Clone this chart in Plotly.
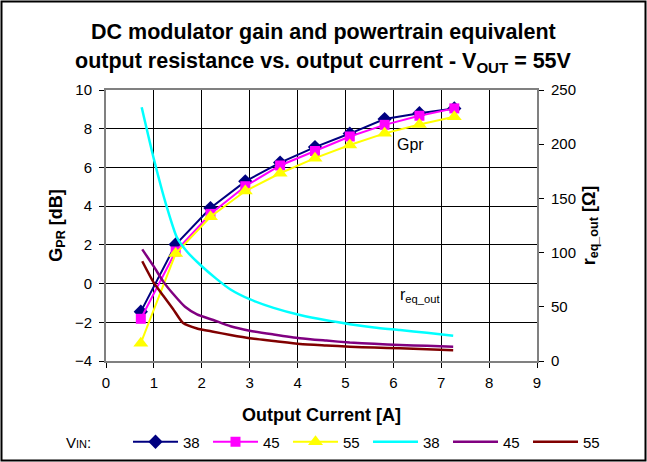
import plotly.graph_objects as go

# ---------------- data ----------------
current_a = [0.727, 1.455, 2.182, 2.909, 3.636, 4.364, 5.091, 5.818, 6.545, 7.273]
gpr_38 = [-1.45, 2.02, 3.9, 5.28, 6.25, 7.05, 7.75, 8.5, 8.8, 9.05]
gpr_45 = [-1.82, 1.66, 3.6, 5.03, 6.1, 6.85, 7.6, 8.2, 8.67, 9.05]
gpr_55 = [-3.08, 1.55, 3.45, 4.78, 5.7, 6.48, 7.16, 7.76, 8.22, 8.62]

r38_x = [0.745, 0.99, 1.27, 1.48, 1.69, 1.96, 2.3, 2.6, 3.0, 3.5, 4.05, 4.6, 5.09, 5.6, 6.14, 6.7, 7.25]
r38_y = [234, 188, 142, 114, 101, 89, 76, 66, 57, 49, 42.4, 37.5, 34, 31, 28.6, 26, 23.3]
r45_x = [0.757, 1.0, 1.2, 1.4, 1.65, 1.9, 2.24, 2.6, 3.0, 3.5, 4.05, 4.6, 5.09, 5.6, 6.14, 6.7, 7.25]
r45_y = [103, 87, 73, 62, 50, 43, 37.8, 32, 28, 24.5, 21, 18.8, 17, 15.8, 14.8, 14, 13.2]
r55_x = [0.757, 1.0, 1.2, 1.4, 1.61, 1.9, 2.24, 2.6, 3.0, 3.5, 4.05, 4.6, 5.09, 5.6, 6.14, 6.7, 7.25]
r55_y = [92, 72, 60, 48, 35, 30, 27, 24, 21, 18.5, 15.7, 14.3, 13.2, 12.4, 11.7, 10.8, 10]

x_ticks = list(range(0, 10))
y_ticks = list(range(-4, 11, 2))
y2_ticks = list(range(0, 251, 50))

title_lines = ["<b>DC modulator gain and powertrain equivalent</b>",
               "<b>output resistance vs. output current - V<sub>OUT</sub> = 55V</b>"]

FONT = "Liberation Sans, Arial, sans-serif"
W, H = 647, 462
ML, MR, MT, MB = 106, 110, 90, 101
PW, PH = W - ML - MR, H - MT - MB


def px_to_paper_y(py):
    return (H - MB - py) / PH


def px_to_paper_x(px):
    return (px - ML) / PW


fig = go.Figure()

fig.add_trace(go.Scatter(x=current_a, y=gpr_38, name="38", mode="lines+markers",
                         line=dict(color="#000080", width=2), legend="legend",
                         marker=dict(symbol="diamond", size=11, color="#000080")))
fig.add_trace(go.Scatter(x=current_a, y=gpr_45, name="45", mode="lines+markers",
                         line=dict(color="#FF00FF", width=2), legend="legend",
                         marker=dict(symbol="square", size=10, color="#FF00FF")))
fig.add_trace(go.Scatter(x=current_a, y=gpr_55, name="55", mode="lines+markers",
                         line=dict(color="#FFFF00", width=2), legend="legend",
                         marker=dict(symbol="triangle-up", size=13, color="#FFFF00")))
fig.add_trace(go.Scatter(x=r38_x, y=r38_y, name="38", mode="lines", yaxis="y2", legend="legend2",
                         line=dict(color="#00FFFF", width=2.5, shape="spline", smoothing=0.6)))
fig.add_trace(go.Scatter(x=r45_x, y=r45_y, name="45", mode="lines", yaxis="y2", legend="legend2",
                         line=dict(color="#800080", width=2.5, shape="spline", smoothing=0.6)))
fig.add_trace(go.Scatter(x=r55_x, y=r55_y, name="55", mode="lines", yaxis="y2", legend="legend2",
                         line=dict(color="#800000", width=2.5, shape="spline", smoothing=0.6)))

legend_common = dict(orientation="h", xref="container", yref="container",
                     xanchor="left", y=(H - 442) / H, yanchor="middle",
                     font=dict(size=15), bgcolor="rgba(0,0,0,0)", traceorder="normal",
                     entrywidth=20, itemwidth=45)

fig.update_layout(
    width=W, height=H,
    margin=dict(l=ML, r=MR, t=MT, b=MB),
    paper_bgcolor="white", plot_bgcolor="white",
    font=dict(family=FONT, size=15, color="black"),
    xaxis=dict(range=[0, 9], tickvals=x_ticks, showgrid=True, gridcolor="black", gridwidth=1,
               showline=True, linecolor="#808080", linewidth=2, mirror=True, automargin=False,
               ticks="outside", ticklen=5, tickcolor="black", zeroline=False,
               tickfont=dict(size=15), ticklabelstandoff=2,
               title=dict(text="<b>Output Current [A]</b>", font=dict(size=18), standoff=19)),
    yaxis=dict(range=[-4, 10], tickvals=y_ticks, showgrid=True, gridcolor="black", gridwidth=1,
               showline=True, linecolor="#808080", linewidth=2, automargin=False,
               ticks="outside", ticklen=5, tickcolor="black", zeroline=False,
               tickfont=dict(size=15), ticklabelstandoff=4,
               title=dict(text="<b>G<sub>PR</sub> [dB]</b>", font=dict(size=18), standoff=8)),
    yaxis2=dict(range=[0, 250], tickvals=y2_ticks, overlaying="y", side="right", showgrid=False,
                showline=True, linecolor="#808080", linewidth=2, automargin=False,
                ticks="outside", ticklen=5, tickcolor="black", zeroline=False,
                tickfont=dict(size=15), ticklabelstandoff=4,
                title=dict(text="<b>r<sub>eq_out</sub> [Ω]</b>", font=dict(size=18), standoff=7)),
    legend=dict(x=128 / W, **legend_common),
    legend2=dict(x=368 / W, **legend_common),
    showlegend=True,
)

# title, one annotation per line
for line_text, py in zip(title_lines, [32, 62]):
    fig.add_annotation(text=line_text, xref="paper", yref="paper",
                       x=px_to_paper_x(W / 2), y=px_to_paper_y(py),
                       xanchor="center", yanchor="middle", showarrow=False,
                       font=dict(family=FONT, size=21.5, color="black"))

fig.add_annotation(text="V<span style='font-size:11px'>IN</span>:", xref="paper", yref="paper",
                   x=px_to_paper_x(78), y=px_to_paper_y(442),
                   xanchor="center", yanchor="middle", showarrow=False, font=dict(size=15))
fig.add_annotation(text="Gpr", x=6.35, y=7.2, xref="x", yref="y", showarrow=False,
                   xanchor="center", yanchor="middle", font=dict(size=16))
fig.add_annotation(text="r<sub>eq_out</sub>", x=6.1, y=-0.6, xref="x", yref="y", showarrow=False,
                   xanchor="left", yanchor="middle", font=dict(size=16))

# outer frame of the chart
fig.add_shape(type="rect", xref="paper", yref="paper",
              x0=px_to_paper_x(1.5), x1=px_to_paper_x(W - 1.5),
              y0=px_to_paper_y(H - 1.5), y1=px_to_paper_y(1.5),
              line=dict(color="black", width=2), fillcolor="rgba(0,0,0,0)", layer="above")

fig.write_html("out.html", config={"displayModeBar": False},
               post_script="document.body.style.margin='0px';document.body.style.overflow='hidden';")
